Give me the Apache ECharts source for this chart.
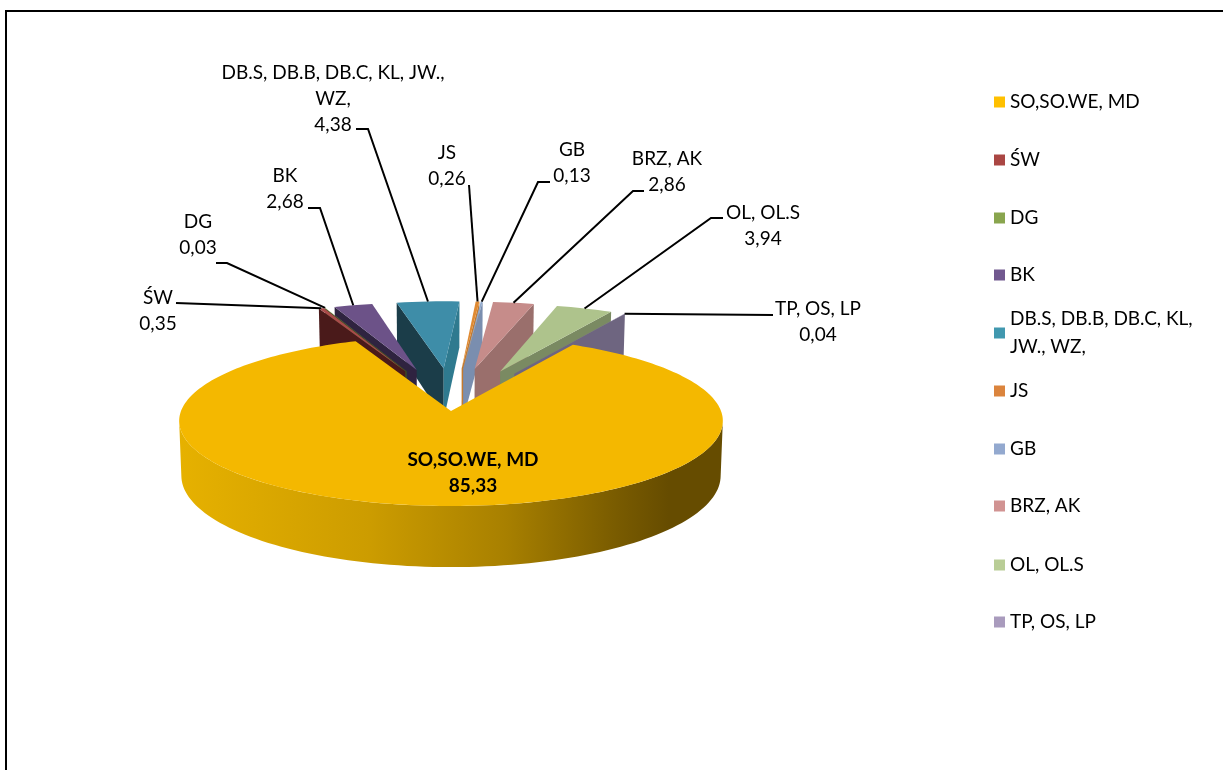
<!DOCTYPE html>
<html>
<head>
<meta charset="utf-8">
<style>html,body{margin:0;padding:0;background:#fff}#c{width:1223px;height:770px}</style>
<script src="https://cdn.jsdelivr.net/npm/echarts@6/dist/echarts.min.js"></script>
</head>
<body>
<div id="c"></div>
<script>
const categories = ['SO,SO.WE, MD','ŚW','DG','BK','DB.S, DB.B, DB.C, KL, JW., WZ,','JS','GB','BRZ, AK','OL, OL.S','TP, OS, LP'];
const values = [85.33,0.35,0.03,2.68,4.38,0.26,0.13,2.86,3.94,0.04];
const valueLabels = ['85,33','0,35','0,03','2,68','4,38','0,26','0,13','2,86','3,94','0,04'];
const labelLines = ['SO,SO.WE, MD','ŚW','DG','BK','DB.S, DB.B, DB.C, KL, JW.,\nWZ,','JS','GB','BRZ, AK','OL, OL.S','TP, OS, LP'];
const legendColors = ['#FFC000','#AA4643','#89A54E','#71588F','#4198AF','#DB843D','#93A9CF','#D19392','#B9CD96','#A99BBD'];
const topColors = ['#F4B800','#A94B4A','#8AA64D','#6C5288','#3E8DA8','#E08A32','#8EA8CC','#C68C8A','#AEC38C','#8B7DA5'];
const faceLeft = ['#000','#4A1A1A','#3E4D22','#2F2340','#1B3D49','#8A5420','#5F7390','#6E4B4A','#5E6B48','#554B68'];
const faceRight = ['#000','#6A2A2A','#5C7032','#4A3A60','#2F7A8F','#C47A2E','#7A8EAF','#9A6F6C','#7A8A62','#6E6580'];
// label block centre x, top y, then the leader's free end and elbow
const labelBoxes = [null,[158,285],[198,209],[285,163],[333,60],[447,140],[572,137],[667,146],[763,200],[818,296]];
const leaderEnds = [null,[[176,303]],[[216,263],[227,263]],[[308,208],[320,208]],[[356,129],[368,129]],[[469,185]],[[550,182],[538,182]],[[644,191],[633,191]],[[723,218],[711,218]],[[773,315]]];
const drawRank = [20,9,8,5,1,2,3,4,6,10];
const legendCentres = [102,160,218,275,333,391,449,506,565,622];

const CX=451, CY=411, RX=270, RY=84, K=0.116, DEPTH=54, EXPLODE=0.54;
const START=29.8; // degrees clockwise from the back of the pie
const total = values.reduce((a,b)=>a+b,0);
const spans = []; let acc = START;
values.forEach(v=>{const s=v/total*360; spans.push([acc,acc+s]); acc+=s;});
const rad=d=>d*Math.PI/180;
function proj(u,v,low){
  const p=1/(1-K*v);
  return low ? [CX+u*RX*p*0.992, CY+(v*RY+DEPTH)*p] : [CX+u*RX*p, CY+v*RY*p];
}
function norm(a){a=((a+180)%360+360)%360-180;return a;}
function slice(i){
  const [a,b]=spans[i]; const mid=norm((a+b)/2);
  const d=i===0?0:EXPLODE;
  const ou=i===0?0:d*Math.sin(rad(mid))*0.9+0.006, ov=-d*Math.cos(rad(mid));
  const pt=(ang,r,low)=>proj(ou+r*Math.sin(rad(ang)),ov-r*Math.cos(rad(ang)),low);
  return {a,b,mid,pt};
}
function arc(s,from,to,low,n){const out=[];for(let j=0;j<=n;j++)out.push(s.pt(from+(to-from)*j/n,1,low));return out;}
const poly=(points,fill,extra)=>Object.assign({type:'polygon',shape:{points},style:{fill}},extra||{});
function renderSlice(i){
  const s=slice(i), children=[];
  const n=Math.max(4,Math.ceil((s.b-s.a)/2));
  if(i===0){
    const grad=new echarts.graphic.LinearGradient(180,0,723,0,[
      {offset:0,color:'#E6B100'},{offset:0.35,color:'#CC9C00'},{offset:0.6,color:'#A88000'},{offset:0.8,color:'#7A5C00'},{offset:0.9,color:'#664C00'},{offset:1,color:'#664C00'}],true);
    const t=arc(s,96.7,263.3,false,100), l=arc(s,263.3,96.7,true,100);
    children.push(poly(t.concat(l),grad));
    children.push(poly([s.pt(0,0,false)].concat(arc(s,s.a,s.b,false,240)),topColors[0]));
    children.push({type:'text',style:{text:labelLines[0]+'\n'+valueLabels[0],x:473,y:447,align:'center',verticalAlign:'top',font:'bold 19px Lato',lineHeight:26,fill:'#000'}});
    return {type:'group',children};
  }
  const ap=s.pt(0,0,false), apL=s.pt(0,0,true);
  const A=s.pt(s.a,1,false), AL=s.pt(s.a,1,true), B=s.pt(s.b,1,false), BL=s.pt(s.b,1,true);
  if(norm(s.a)<0) children.push(poly([ap,A,AL,apL],faceLeft[i]));
  if(norm(s.b)>0) children.push(poly([ap,B,BL,apL],faceRight[i]));
  children.push(poly([ap].concat(arc(s,s.a,s.b,false,n)),topColors[i]));
  const mid=s.pt((s.a+s.b)/2,1,false);
  const path=[mid].concat(leaderEnds[i].slice().reverse());
  children.push({type:'polyline',shape:{points:path},style:{stroke:'#000',lineWidth:2,fill:null},z2:50});
  const box=labelBoxes[i];
  children.push({type:'text',style:{text:labelLines[i]+'\n'+valueLabels[i],x:box[0],y:box[1],align:'center',verticalAlign:'top',font:'19px Lato',lineHeight:26,fill:'#000'},z2:50});
  return {type:'group',children};
}
const series=categories.map((name,i)=>({
  type:'custom',name,coordinateSystem:'none',silent:true,animation:false,z:drawRank[i],
  itemStyle:{color:legendColors[i]},
  data:[[values[i]]],
  renderItem:()=>renderSlice(i)
}));
const legends=categories.map((name,i)=>{
  const wrap=i===4;
  return {
    data:[name],orient:'vertical',left:994,top:wrap?legendCentres[i]-42:legendCentres[i]-14,
    padding:0,itemWidth:11,itemHeight:11,icon:'rect',selectedMode:false,
    formatter:wrap?()=>'DB.S, DB.B, DB.C, KL,\nJW., WZ,':undefined,
    textStyle:Object.assign({fontFamily:'Lato',fontSize:19,color:'#000',lineHeight:28},wrap?{padding:[28,0,0,0]}:{})
  };
});
const chart=echarts.init(document.getElementById('c'),null,{renderer:'canvas'});
chart.setOption({
  animation:false,backgroundColor:'#fff',
  legend:legends,series,
  graphic:[{type:'polyline',shape:{points:[[1223,11],[6,11],[6,770]]},style:{stroke:'#000',lineWidth:2,fill:null}}]
});
</script>
</body>
</html>
